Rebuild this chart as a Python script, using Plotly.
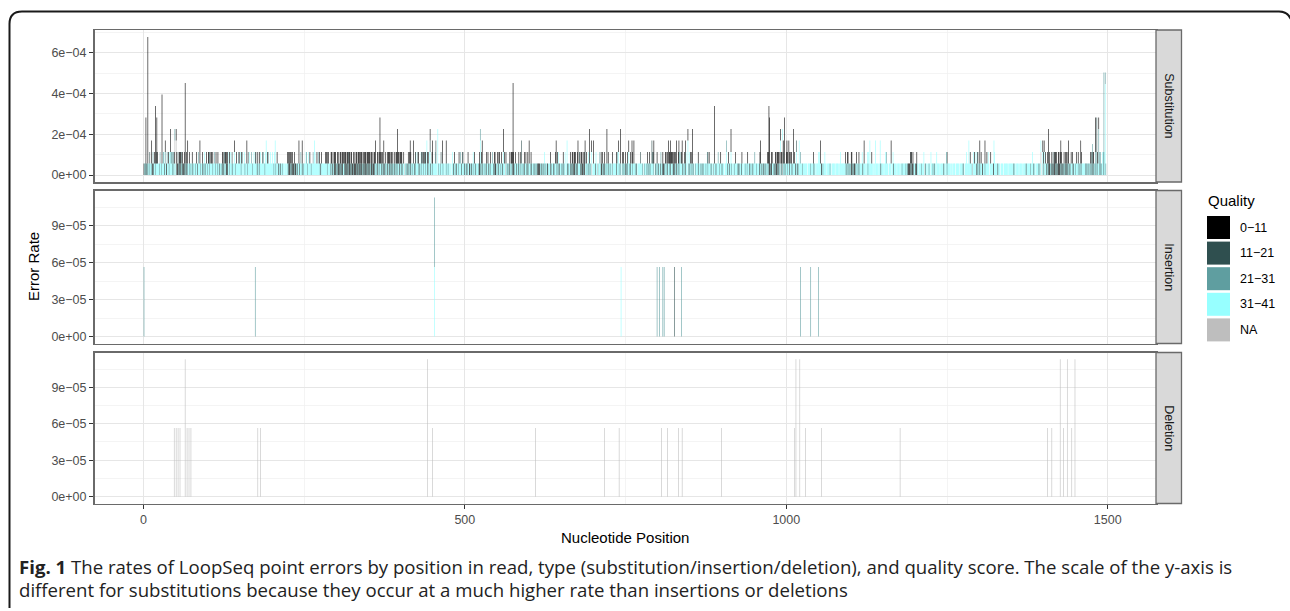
import plotly.graph_objects as go

W, H = 1290, 611
UNIT = 5.65e-5  # error rate contributed by a single observed error

QUALITY_LEVELS = ["0-11", "11-21", "21-31", "31-41", "NA"]
QUALITY_COLORS = {"0-11": "#000000", "11-21": "#2F4F4F", "21-31": "#5F9EA0",
                  "31-41": "#97FFFF", "NA": "#BEBEBE"}
CODE = {"k": "0-11", "d": "11-21", "t": "21-31", "c": "31-41", "n": "NA"}
FACETS = ["Substitution", "Insertion", "Deletion"]

# Substitutions: quality of the first (bottom) error at positions 1..1500 ('.' = none)
sub_level1 = [
    "kccktcdcct cctkcdcctc cccctcctcc tcdccktcct ccctcdcctc kdkdtdkdcd dktkdcdtkc ctctccdccc tccdcccctc cdctcdccct",
    "cctcccctcc ctcctccdcc tcdkdtkcdk dcctcccdtc cctcccctcc ctcc.cctcc ctdcccctct ccctccdcct tcccdccctc cccctccccc",
    "cctcctcccd tcdcctcc.c c.cctdkdtc kdkdtdkcdt ccdctcdctc cccctccccc tcctcccccc ctccdtcccc ccccctcccc ttcdtcdkdc",
    "dtdkdcdtkd ccdtkdcktd kdcdkdtkdk dtdkcdktdk cdtdtkdcdk tdcdktdkdt ctcdtctcct dcdtdctctd ctdcdtdccd tcdctccdtc",
    "cdtcc.tccd tcdctdcctc cdtcccdtcd cctdctcdtc cdctcddcct c.ctcc.ctc ctdcctcc.c tcctcc.c.c cdtcctdcct cctcdtcctd",
    "ccdtccktcd tcctccdc.c cdktdkdcct ccdtccdctt cctcdtdkct cdcctcctdc cc.tccdcdt ctctkdtccd cctdc.tctc tcdcctdctc",
    "ctcdcctcdc tcdkdktctd ccdctcct.c ccdctccdtc cctcdcdcct ctcdcc.ccd tcctdtdcdk dcdtdcctcd tdkdtkdcct ccdctcc.cc",
    "ccdcc.tcct cdkcdtdtcc tccdcctc.t cc.ccdtcct ctc.cdcctd cdtcctcdcc tccctcdc.c ccdcctc.tc cctcdccdcc cctc.cdctc",
    "dccdtcdtkd cctcdcctcd cccktdtcdt ccdcctccdc tcdcc.ctcd cctcdc.ctc ccdccctcdc tcc.tcctcc ccdcc.tcct tcctctcccd",
    "ccc.cctcdc cdcctc.ctc ccctcdtccd cc.cctcctc ccdctccdcc tcctcccdtc cdctdcdcct ccdktdkcct cdtdkdcdtc ccdctccdcc",
    "ctccdcctct cccdtcc.cc ctcctcc.cc cc.cccctcc ccdcc.cccc cccc.ctccc cc.cccctc. ccccc.cccc c.cccc.ccc ccdccdccdc",
    "dktcdkdcct ccdcc.ccdc ccc.cctccc cccc.cc.cc ccc.ccdccc c.ccctcc.c ccc.ccdccc c.cccc.cct ccccctccdk dkdcdkdtcc",
    "dkdcc.ccct cccc.dcc.c ctc.ccctcd cc.ccccc.c ccccdc.cct ccccc.cc.c cc.ccccc.c ccccdc.ccc cc.ccccct. cccccdtdcc",
    "dccc.ccctc ccccc.cccc c.ccccccdc cc.cccc.cc cccc.ccccc cccdcc.ccc c.ccccc.cc ccdccc.cct ccccdcc.cc ccdccc.cct",
    "ccccdcddkd cdtdtdkdtd cdkdkdcdtd tdcdtdtdcd ctcctcdcct ccctctcttc ccccttttct tcttdtdtct tcttcctttt ccttcct...",
]
# Substitutions: quality of a second error at the same position ('.' = none)
sub_level2 = [
    "...k..k..d ..k.t.k..k dk...t..k. cc.t..c.k. cctct.tk.. .k.d.kdkd. k..d..k.t. .k...k.... ..k..t.... .k..c..k..",
    "kkt.kk.k.. t.k..k.... ..kc.ctkk. k.ck.c.t.. .k..k..ck. c.kt..c... k.c.c..c.. .c.ck..k.. kc..c.t..c ..k.c..c..",
    "c..c...k.. .......... ...k.kk.kk .k..k..... ....c..... ..ct..c.k. ...c..c..k .c.k..k... ..k.kk.k.. .kk.k.kkk.",
    ".kk..kk.kk k.kkk.kkdk k.kk..k.k. kk.kkk.kkk .k.kkk.kkd kk.kk.k.kk k..kk.k.kk .k.k..k..k kkk.kk.k.. k.kk.kk.kk",
    "kk..k..... .k.k.k.... ..kc..ck.. .ckc.kdck. ckk.ck..k. .c.c...... ..c....... .......... c..k...... k.c..ck...",
    "....k..... ..c.k...c. ..k..c.... ...k.k...k ..c..kk... k.kk..k..c .k.k.....k .kkk.k..k. ...k.ck... ..k.k..k..",
    "..k....... .......... ...c....k. ..k....... k..k.c.... ..k..c..c. ...k..kk.k kk..k..ck. kk.k.kk.k. .c.k..k...",
    "...c.....c .k.k..k... ..k......k ..c..kc.k. ....k.k..k ..k.c..k.. k......... ..c....... ...k..k... .dd.....k.",
    "....c..k.. .kk.k..kk. kkk.kk.kk. .kkc.ckk.. .k.c..k.c. k.k....... ..k....... ...c..ck.k .......... ...c...k..",
    "......c..k ...c...... k......... k........k .......... c.......k. .......... kk.k..kk.. ..kk.kkk.k kkk.kkk..k",
    "kk..k.kk.. k.k..c.k.. .c.....c.. .......... .k.......c .c..k....c .......... .......... ...c..c... .k..kk....",
    "kk......k. ..k..c.c.. .....c.c.. ..k....... .......... ...c.c.... .....c.... .......... .......... ..kdk.k...",
    "..k....... ...c...... ....c..... ...c...... ........ck .......... .......... .........c ..c..k.... c.k.c.ck..",
    "..k.k..... .k.c...k.. .k.c...... .......... .......... .......... .......... ......c... ..c....... ........kk",
    "k.k..k..k. ..k.d.kdkk ..kk.k.k.. .k.k.k.k.. ..k.k..... k..k....k. .......... ..k.t.kk.. t.tk.kt.t. .ct.ct....",
]
# Substitutions: taller stacks (total number of errors at the position, quality of the upper part)
sub_tall_pos = [4, 7, 13, 19, 21, 29, 34, 42, 49, 51, 65, 69, 88, 142, 161, 191, 205, 242, 247, 266, 361, 368, 374,
                395, 415, 420, 441, 446, 450, 455, 458, 465, 471, 524, 527, 560, 575, 588, 600, 642, 659, 676, 687,
                694, 697, 700, 721, 739, 742, 755, 760, 763,
                791, 794, 817, 820, 829, 833, 838, 843, 847, 854, 888, 907, 914, 960, 973, 974, 991, 994, 996, 997,
                1001, 1004, 1011, 1016, 1020, 1053, 1121, 1130, 1139, 1146, 1163,
                1284, 1301, 1309, 1323, 1396, 1399, 1401, 1408, 1427, 1439, 1458, 1476, 1481, 1483, 1486, 1494, 1496]
sub_tall_units = [5, 12, 3, 6, 5, 7, 3, 4, 4, 4, 8, 3, 3, 3, 3, 3, 3, 3, 3, 3, 3, 5, 3,
                  4, 3, 3, 3, 4, 3, 3, 4, 3, 3, 4, 3, 4, 8, 3, 3, 3, 3, 3, 3,
                  4, 3, 3, 4, 3, 4, 3, 3, 3,
                  3, 3, 3, 3, 3, 3, 3, 3, 4, 4, 6, 3, 4, 3, 6, 5, 4, 4, 3, 5,
                  3, 3, 4, 3, 3, 3, 3, 3, 3, 3, 3,
                  3, 3, 3, 3, 3, 3, 3, 4, 3, 3, 3, 2.7, 5, 5, 5, 8.9, 8.9]
sub_tall_qual = ("kkkkkkkknnkkkckcckkckkk" + "kkkcckdckkckkkdkkcknknkkckkkk"
                 + "dkkkkkkkckkckkkknndkkkkdckkccck" + "ckkcnnnkkkktkdttc")

# Insertions
ins_pos = [1, 174, 453, 453, 743, 799, 803, 808, 810, 826, 837, 1022, 1038, 1050]
ins_units = [1, 1, 1, 1, 1, 1, 1, 1, 1, 1, 1, 1, 1, 1]
ins_qual = ["21-31", "21-31", "31-41", "21-31", "31-41", "21-31", "21-31", "21-31", "21-31",
            "11-21", "21-31", "21-31", "21-31", "21-31"]

# Deletions (no quality score -> NA)
del_pos = [48, 51, 54, 57, 65, 68, 71, 74, 178, 182, 442, 450, 610, 717, 740, 806, 815, 832, 838, 899,
           1013, 1015, 1021, 1030, 1055, 1177, 1406, 1413, 1426, 1431, 1437, 1444, 1449]
del_units = [1, 1, 1, 1, 2, 1, 1, 1, 1, 1, 2, 1, 1, 1, 1, 1, 1, 1, 1, 1,
             1, 2, 2, 1, 1, 1, 1, 1, 2, 1, 2, 1, 2]

MINUS = "\u2212"  # the PDF device draws the hyphen as a minus sign
x_ticks = [0, 500, 1000, 1500]
x_tick_labels = ["0", "500", "1000", "1500"]
sub_y_ticks = [0, 2e-4, 4e-4, 6e-4]
sub_y_labels = ["0e+00", "2e-04", "4e-04", "6e-04"]
id_y_ticks = [0, 3e-5, 6e-5, 9e-5]
id_y_labels = ["0e+00", "3e-05", "6e-05", "9e-05"]

caption_line1 = ("<b>Fig. 1</b> The rates of LoopSeq point errors by position in read, type "
                 "(substitution/insertion/deletion), and quality score. The scale of the y-axis is")
caption_line2 = ("different for substitutions because they occur at a much higher rate than "
                 "insertions or deletions")

# ---------------------------------------------------------------- build counts
def empty_counts():
    return {q: {} for q in QUALITY_LEVELS}


def add(counts, total, pos, q, n):
    counts[q][pos] = counts[q].get(pos, 0) + n
    total[pos] = total.get(pos, 0) + n


sub_counts, sub_total = empty_counts(), {}
for level in (sub_level1, sub_level2):
    codes = "".join(level).replace(" ", "")
    for i, ch in enumerate(codes):
        if ch in CODE:
            add(sub_counts, sub_total, i + 1, CODE[ch], 1)
for pos, units, ch in zip(sub_tall_pos, sub_tall_units, sub_tall_qual):
    extra = units - sub_total.get(pos, 0)
    if extra > 0:
        add(sub_counts, sub_total, pos, CODE[ch], extra)

ins_counts, ins_total = empty_counts(), {}
for pos, units, q in zip(ins_pos, ins_units, ins_qual):
    add(ins_counts, ins_total, pos, q, units)

del_counts, del_total = empty_counts(), {}
for pos, units in zip(del_pos, del_units):
    add(del_counts, del_total, pos, "NA", units)

facet_counts = {"Substitution": sub_counts, "Insertion": ins_counts, "Deletion": del_counts}
facet_total = {"Substitution": sub_total, "Insertion": ins_total, "Deletion": del_total}

# ---------------------------------------------------------------- geometry
PANEL_X0, PANEL_X1 = 94.5, 1156.0
STRIP_X1 = 1181.5
PANEL_Y = {"Substitution": (30.0, 182.0), "Insertion": (190.5, 343.5), "Deletion": (352.5, 503.5)}
X_RANGE = [-76, 1575]
STACK_ORDER = ["NA", "31-41", "21-31", "11-21", "0-11"]

FONT = "Liberation Sans, Arial, sans-serif"
TICK_COLOR = "#4D4D4D"
BORDER = "#6A6A6A"
GRID_MAJOR = "#E6E6E6"
GRID_MINOR = "#EFEFEF"


def px(x):
    return x / W


def py(y):
    return 1 - y / H


def minus(s):
    return s.replace("-", MINUS)


fig = go.Figure()

for row, facet in enumerate(FACETS, start=1):
    suffix = "" if row == 1 else str(row)
    counts = facet_counts[facet]
    for q in STACK_ORDER:
        pts = sorted(counts[q].items())
        if not pts:
            continue
        fig.add_trace(go.Bar(
            x=[p for p, _ in pts], y=[u * UNIT for _, u in pts],
            width=0.9, name=q, showlegend=False, hoverinfo="skip",
            marker=dict(color=QUALITY_COLORS[q], line=dict(width=0)),
            xaxis="x" + suffix, yaxis="y" + suffix))

layout = dict(
    width=W, height=H, autosize=False,
    margin=dict(l=0, r=0, t=0, b=0),
    paper_bgcolor="white", plot_bgcolor="white",
    barmode="stack", bargap=0.1,
    showlegend=False,
    font=dict(family=FONT, color="#000000"),
)

for row, facet in enumerate(FACETS, start=1):
    suffix = "" if row == 1 else str(row)
    top, bottom = PANEL_Y[facet]
    ymax = max(facet_total[facet].values()) * UNIT
    is_sub = facet == "Substitution"
    bottom_row = row == len(FACETS)
    layout["xaxis" + suffix] = dict(
        domain=[px(PANEL_X0), px(PANEL_X1)], range=X_RANGE, anchor="y" + suffix,
        tickmode="array", tickvals=x_ticks, ticktext=x_tick_labels,
        showticklabels=bottom_row, ticks="outside" if bottom_row else "",
        ticklen=4, tickwidth=1, tickcolor="#333333",
        tickfont=dict(family=FONT, size=12.5, color=TICK_COLOR),
        showgrid=True, gridcolor=GRID_MAJOR, gridwidth=1.1,
        minor=dict(tick0=0, dtick=250, showgrid=True, gridcolor=GRID_MINOR, gridwidth=0.7, ticks=""),
        zeroline=False, showline=True, mirror=True, linecolor=BORDER, linewidth=1.5,
        fixedrange=True,
    )
    layout["yaxis" + suffix] = dict(
        domain=[py(bottom), py(top)], range=[-0.05 * ymax, 1.05 * ymax], anchor="x" + suffix,
        tickmode="array", tickvals=sub_y_ticks if is_sub else id_y_ticks,
        ticktext=[minus(t) for t in (sub_y_labels if is_sub else id_y_labels)],
        ticks="outside", ticklen=4, tickwidth=1, tickcolor="#333333",
        tickfont=dict(family=FONT, size=12.5, color=TICK_COLOR),
        showgrid=True, gridcolor=GRID_MAJOR, gridwidth=1.1,
        minor=dict(tick0=0, dtick=1e-4 if is_sub else 1.5e-5, showgrid=True,
                   gridcolor=GRID_MINOR, gridwidth=0.7, ticks=""),
        zeroline=False, showline=True, mirror=True, linecolor=BORDER, linewidth=1.5,
        fixedrange=True,
    )

shapes = []
annotations = []

# facet strips
for facet in FACETS:
    top, bottom = PANEL_Y[facet]
    shapes.append(dict(type="rect", xref="paper", yref="paper",
                       x0=px(PANEL_X1), x1=px(STRIP_X1), y0=py(bottom), y1=py(top),
                       fillcolor="#D9D9D9", line=dict(color=BORDER, width=1.3), layer="above"))
    annotations.append(dict(text=facet, xref="paper", yref="paper",
                            x=px((PANEL_X1 + STRIP_X1) / 2), y=py((top + bottom) / 2),
                            textangle=90, showarrow=False, xanchor="center", yanchor="middle",
                            font=dict(family=FONT, size=12.5, color="#1A1A1A")))

# legend (drawn to match ggplot's large keys)
annotations.append(dict(text="Quality", xref="paper", yref="paper", x=px(1205.5), y=py(201),
                        showarrow=False, xanchor="left", yanchor="middle",
                        font=dict(family=FONT, size=15, color="#000000")))
for i, q in enumerate(QUALITY_LEVELS):
    y0 = 216 + i * 25.6
    shapes.append(dict(type="rect", xref="paper", yref="paper",
                       x0=px(1207), x1=px(1230), y0=py(y0 + 23), y1=py(y0),
                       fillcolor=QUALITY_COLORS[q], line=dict(width=0)))
    annotations.append(dict(text=minus(q), xref="paper", yref="paper", x=px(1238), y=py(y0 + 11.5),
                            showarrow=False, xanchor="left", yanchor="middle",
                            font=dict(family=FONT, size=12.5, color="#000000")))

# axis titles
annotations.append(dict(text="Error Rate", xref="paper", yref="paper", x=px(33), y=py(267),
                        textangle=-90, showarrow=False, xanchor="center", yanchor="middle",
                        font=dict(family=FONT, size=15, color="#000000")))
annotations.append(dict(text="Nucleotide Position", xref="paper", yref="paper",
                        x=px((PANEL_X0 + PANEL_X1) / 2), y=py(537),
                        showarrow=False, xanchor="center", yanchor="middle",
                        font=dict(family=FONT, size=15, color="#000000")))

# caption
CAP_FONT = dict(family="Open Sans, Noto Sans, sans-serif", size=18.6, color="#222222")
annotations.append(dict(text=caption_line1, xref="paper", yref="paper", x=px(17), y=py(566),
                        showarrow=False, xanchor="left", yanchor="middle", font=CAP_FONT))
annotations.append(dict(text=caption_line2, xref="paper", yref="paper", x=px(17), y=py(589),
                        showarrow=False, xanchor="left", yanchor="middle", font=CAP_FONT))

# rounded outer frame
frame = (f"M {px(9.5)},{py(608)} L {px(9.5)},{py(24)} Q {px(9.5)},{py(11.5)} {px(22)},{py(11.5)} "
         f"L {px(1279)},{py(11.5)} Q {px(1289)},{py(11.5)} {px(1292)},{py(22)}")
shapes.append(dict(type="path", xref="paper", yref="paper", path=frame,
                   line=dict(color="#1A1A1A", width=2)))

layout["shapes"] = shapes
layout["annotations"] = annotations
fig.update_layout(**layout)

POST_SCRIPT = (
    "document.body.style.margin='0';"
    "document.body.style.overflow='hidden';"
    "document.querySelectorAll('.barlayer path').forEach(function(p){"
    "p.style.shapeRendering='geometricPrecision';});"
)

fig.write_html("out.html", config={"staticPlot": True, "displayModeBar": False},
               post_script=POST_SCRIPT)
